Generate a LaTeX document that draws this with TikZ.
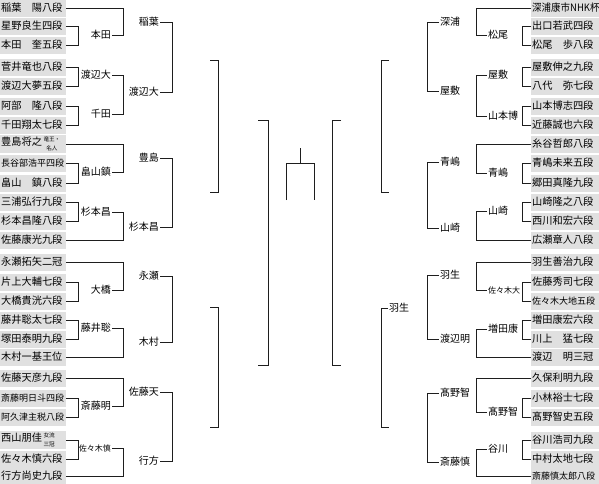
\documentclass[tikz,border=0pt]{standalone}
\usepackage{fontspec}
\setmainfont{Noto Sans CJK JP}
\definecolor{boxgray}{RGB}{224,224,224}
\definecolor{linec}{RGB}{30,30,30}
\newcommand{\fnorm}{\fontsize{10.2}{11}\selectfont}
\newcommand{\fsev}{\fontsize{9}{10}\selectfont}
\newcommand{\flab}{\fontsize{10}{11}\selectfont}
\newcommand{\fsml}{\fontsize{8}{9}\selectfont}
\newcommand{\anno}[2]{\kern1.5pt{\fontsize{5.6}{9.2}\selectfont\renewcommand{\arraystretch}{1}\begin{tabular}[c]{@{}c@{}}#1\\#2\end{tabular}}}
\begin{document}
\begin{tikzpicture}[x=1pt,y=-1pt,
  pbox/.style={fill=boxgray, anchor=west, minimum height=17pt, text width=64pt,
    inner xsep=1pt, inner ysep=0pt, align=left, font=\fnorm},
  rbox/.style={pbox, text width=66pt},
  labl/.style={anchor=east, inner sep=1pt, font=\flab},
  labr/.style={anchor=west, inner sep=1pt, font=\flab},
  br/.style={draw=linec, line width=0.9pt}]
\useasboundingbox (0,0) rectangle (599,483);
% columns
\coordinate (xl2) at (78,0);
\coordinate (xl3) at (123,0);
\coordinate (xl4) at (172,0);
\coordinate (xr2) at (522,0);
\coordinate (xr3) at (476,0);
\coordinate (xr4) at (427,0);
% left boxes
\node[pbox] (L1) at (0,8) {稲葉　陽八段};
\node[pbox] (L2) at (0,26) {星野良生四段};
\node[pbox] (L3) at (0,45) {本田　奎五段};
\node[pbox] (L4) at (0,67) {菅井竜也八段};
\node[pbox] (L5) at (0,86) {渡辺大夢五段};
\node[pbox] (L6) at (0,106) {阿部　隆八段};
\node[pbox] (L7) at (0,125) {千田翔太七段};
\node[pbox] (L8) at (0,144) {豊島将之\anno{竜王・}{名人}};
\node[pbox] (L9) at (0,163) {{\fsev 長谷部浩平四段}};
\node[pbox] (L10) at (0,183) {畠山　鎮八段};
\node[pbox] (L11) at (0,202) {三浦弘行九段};
\node[pbox] (L12) at (0,221) {杉本昌隆八段};
\node[pbox] (L13) at (0,240) {佐藤康光九段};
\node[pbox] (L14) at (0,262) {永瀬拓矢二冠};
\node[pbox] (L15) at (0,282) {片上大輔七段};
\node[pbox] (L16) at (0,301) {大橋貴洸六段};
\node[pbox] (L17) at (0,320) {藤井聡太七段};
\node[pbox] (L18) at (0,339) {塚田泰明九段};
\node[pbox] (L19) at (0,357) {木村一基王位};
\node[pbox] (L20) at (0,378) {佐藤天彦九段};
\node[pbox] (L21) at (0,398) {{\fsev 斎藤明日斗四段}};
\node[pbox] (L22) at (0,417) {{\fsev 阿久津主税八段}};
\node[pbox] (L23) at (0,440) {西山朋佳\anno{女流}{三冠}};
\node[pbox] (L24) at (0,459) {佐々木慎六段};
\node[pbox] (L25) at (0,476) {行方尚史九段};
% right boxes
\node[rbox] (R1) at (531,8) {\scalebox{0.93}[1]{深浦康市NHK杯}};
\node[rbox] (R2) at (531,26) {出口若武四段};
\node[rbox] (R3) at (531,45) {松尾　歩八段};
\node[rbox] (R4) at (531,67) {屋敷伸之九段};
\node[rbox] (R5) at (531,86) {八代　弥七段};
\node[rbox] (R6) at (531,106) {山本博志四段};
\node[rbox] (R7) at (531,125) {近藤誠也六段};
\node[rbox] (R8) at (531,144) {糸谷哲郎八段};
\node[rbox] (R9) at (531,163) {青嶋未来五段};
\node[rbox] (R10) at (531,183) {郷田真隆九段};
\node[rbox] (R11) at (531,202) {山崎隆之八段};
\node[rbox] (R12) at (531,221) {西川和宏六段};
\node[rbox] (R13) at (531,240) {広瀬章人八段};
\node[rbox] (R14) at (531,262) {羽生善治九段};
\node[rbox] (R15) at (531,282) {佐藤秀司七段};
\node[rbox] (R16) at (531,301) {{\fsev 佐々木大地五段}};
\node[rbox] (R17) at (531,320) {増田康宏六段};
\node[rbox] (R18) at (531,339) {川上　猛七段};
\node[rbox] (R19) at (531,357) {渡辺　明三冠};
\node[rbox] (R20) at (531,378) {久保利明九段};
\node[rbox] (R21) at (531,398) {小林裕士七段};
\node[rbox] (R22) at (531,417) {髙野智史五段};
\node[rbox] (R23) at (531,440) {谷川浩司九段};
\node[rbox] (R24) at (531,459) {中村太地七段};
\node[rbox] (R25) at (531,476) {{\fsev 斎藤慎太郎八段}};
% left round-2 labels
\node[labl] (a1) at (112,35) {本田};
\node[labl] (a2) at (112,75) {渡辺大};
\node[labl] (a3) at (112,114) {千田};
\node[labl] (a4) at (112,172) {畠山鎮};
\node[labl] (a5) at (112,212) {杉本昌};
\node[labl] (a6) at (112,290) {大橋};
\node[labl] (a7) at (112,328) {藤井聡};
\node[labl] (a8) at (112,406) {斎藤明};
\node[labl, font=\fsml] (a9) at (112,448) {佐々木慎};
% left round-3 labels
\node[labl] (b1) at (160,22) {稲葉};
\node[labl] (b2) at (160,92) {渡辺大};
\node[labl] (b3) at (160,158) {豊島};
\node[labl] (b4) at (160,227) {杉本昌};
\node[labl] (b5) at (160,276) {永瀬};
\node[labl] (b6) at (160,342) {木村};
\node[labl] (b7) at (160,392) {佐藤天};
\node[labl] (b8) at (160,461) {行方};
% right round-2 labels
\node[labr] (c1) at (487,35) {松尾};
\node[labr] (c2) at (487,75) {屋敷};
\node[labr] (c3) at (487,116) {山本博};
\node[labr] (c4) at (487,173) {青嶋};
\node[labr] (c5) at (487,211) {山崎};
\node[labr, font=\fsml] (c6) at (487,290) {佐々木大};
\node[labr] (c7) at (487,329) {増田康};
\node[labr] (c8) at (487,412) {髙野智};
\node[labr] (c9) at (487,449) {谷川};
% right round-3 labels
\node[labr] (d1) at (439,22) {深浦};
\node[labr] (d2) at (439,91) {屋敷};
\node[labr] (d3) at (439,162) {青嶋};
\node[labr] (d4) at (439,228) {山崎};
\node[labr] (d5) at (439,275) {羽生};
\node[labr] (d6) at (439,339) {渡辺明};
\node[labr] (d7) at (439,393) {髙野智};
\node[labr] (d8) at (439,462) {斎藤慎};
% right round-4 label
\node[labr] (e1) at (388,308) {羽生};
% free ends
\coordinate (l4a) at (210,60);  \coordinate (l4b) at (210,192);
\coordinate (l4c) at (210,307); \coordinate (l4d) at (210,427);
\coordinate (l4x) at (218,0);
\coordinate (l5a) at (258,120); \coordinate (l5b) at (258,365);
\coordinate (l5x) at (268,0);
\coordinate (r4a) at (389,60);  \coordinate (r4b) at (389,192);
\coordinate (r4d) at (389,427);
\coordinate (r4x) at (381,0);
\coordinate (r5a) at (341,120); \coordinate (r5b) at (341,365);
\coordinate (r5x) at (332,0);
\coordinate (ftop) at (300,148); \coordinate (fmid) at (300,163);
\coordinate (fl) at (286,200); \coordinate (fr) at (314,200);
% left pair brackets
\foreach \p/\q in {L2/L3,L4/L5,L6/L7,L9/L10,L11/L12,L15/L16,L17/L18,L21/L22,L23/L24}
  \draw[br] (\p.east) -- (\p.east -| xl2) -- (\q.east -| xl2) -- (\q.east);
% left round-2 brackets
\foreach \p/\q in {L1/a1,a2/a3,L8/a4,a5/L13,L14/a6,a7/L19,L20/a8,a9/L25}
  \draw[br] (\p.east) -- (\p.east -| xl3) -- (\q.east -| xl3) -- (\q.east);
% left round-3 brackets
\foreach \p/\q in {b1/b2,b3/b4,b5/b6,b7/b8}
  \draw[br] (\p.east) -- (\p.east -| xl4) -- (\q.east -| xl4) -- (\q.east);
% right pair brackets
\foreach \p/\q in {R2/R3,R4/R5,R6/R7,R9/R10,R11/R12,R15/R16,R17/R18,R21/R22,R23/R24}
  \draw[br] (\p.west) -- (\p.west -| xr2) -- (\q.west -| xr2) -- (\q.west);
% right round-2 brackets
\foreach \p/\q in {R1/c1,c2/c3,R8/c4,c5/R13,R14/c6,c7/R19,R20/c8,c9/R25}
  \draw[br] (\p.west) -- (\p.west -| xr3) -- (\q.west -| xr3) -- (\q.west);
% right round-3 brackets
\foreach \p/\q in {d1/d2,d3/d4,d5/d6,d7/d8}
  \draw[br] (\p.west) -- (\p.west -| xr4) -- (\q.west -| xr4) -- (\q.west);
% round-4
\draw[br] (l4a) -- (l4a -| l4x) -- (l4b -| l4x) -- (l4b);
\draw[br] (l4c) -- (l4c -| l4x) -- (l4d -| l4x) -- (l4d);
\draw[br] (r4a) -- (r4a -| r4x) -- (r4b -| r4x) -- (r4b);
\draw[br] (e1.west) -- (e1.west -| r4x) -- (r4d -| r4x) -- (r4d);
% round-5
\draw[br] (l5a) -- (l5a -| l5x) -- (l5b -| l5x) -- (l5b);
\draw[br] (r5a) -- (r5a -| r5x) -- (r5b -| r5x) -- (r5b);
% final
\draw[br] (ftop) -- (fmid);
\draw[br] (fl) -- (fl |- fmid) -- (fr |- fmid) -- (fr);
\end{tikzpicture}
\end{document}
